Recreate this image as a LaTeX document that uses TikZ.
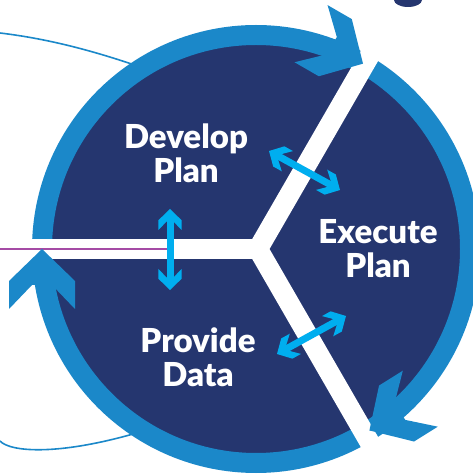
\documentclass[tikz,border=0pt]{standalone}
\usepackage{fontspec}
\setmainfont{Lato}[BoldFont={Lato Black}]
\usepackage{tikz}

\definecolor{planblue}{HTML}{25366F}
\definecolor{ringblue}{HTML}{1B88C9}
\definecolor{cyanarr}{HTML}{00AEEF}
\definecolor{purp}{HTML}{A54BA5}

\tikzset{
  chev/.pic={\fill (0,0) -- (-32,33) -- (-60,33) -- (-36,10) -- (-36,-10) -- (-60,-33) -- (-32,-33) -- cycle;},
  lbl/.style={text=white, align=center, inner sep=0pt, font=\fontsize{33}{34}\selectfont\bfseries},
  dbl/.style={draw=cyanarr, line width=7pt, shorten <=11pt, shorten >=11pt},
}

\begin{document}
\begin{tikzpicture}[x=1pt, y=1pt]
    \useasboundingbox (0,0) rectangle (473,474);

    \coordinate (c) at (256,225);   % ring centre
    \coordinate (yc) at (258,225);  % centre of the white Y

    % thin lines behind the circle
    \draw[ringblue, line width=1.6pt] (0,441) .. controls (50,435) and (100,422) .. (160,400);
    \draw[ringblue, line width=1.6pt] (0,33) .. controls (10,22) and (60,17) .. (150,45);

    \fill[planblue] (c) circle (214);
    \draw[ringblue, line width=20pt] (c) circle (214);

    % white Y
    \draw[white, line width=20pt, miter limit=4] ([shift={(60:240)}]yc) -- (yc) -- ([shift={(-60:240)}]yc);
    \draw[white, line width=20pt] (yc) -- ([shift={(180:260)}]yc);

    \coordinate (pl) at (0,225);
    \coordinate (pe) at (170,225);
    \draw[purp, line width=2.2pt] (pl) -- (pe);

    % ring arrow heads
    \coordinate (tl) at ([shift={(180:214)}]c);
    \coordinate (tr) at ([shift={(60:214)}]c);
    \coordinate (tb) at ([shift={(-58:214)}]c);
    \pic[fill=ringblue, rotate=90] at (tl) {chev};
    \pic[fill=ringblue, rotate=-30] at (tr) {chev};
    \pic[fill=ringblue, rotate=-148] at (tb) {chev};

    % double arrows across the gaps
    \coordinate (va) at (170,265);
    \coordinate (vb) at (170,184);
    \coordinate (ua) at (269,323);
    \coordinate (ub) at (340,284);
    \coordinate (la) at (277,120);
    \coordinate (lb) at (346,158);
    \draw[dbl] (va) -- (vb);
    \draw[dbl] (ua) -- (ub);
    \draw[dbl] (la) -- (lb);
    \pic[fill=cyanarr, scale=0.35, rotate=90] at (va) {chev};
    \pic[fill=cyanarr, scale=0.35, rotate=-90] at (vb) {chev};
    \pic[fill=cyanarr, scale=0.35, rotate=151] at (ua) {chev};
    \pic[fill=cyanarr, scale=0.35, rotate=-29] at (ub) {chev};
    \pic[fill=cyanarr, scale=0.35, rotate=209] at (la) {chev};
    \pic[fill=cyanarr, scale=0.35, rotate=29] at (lb) {chev};

    \node[lbl] (dev) at (186,321) {Develop\\Plan};
    \node[lbl] (exe) at (378,225) {Execute\\Plan};
    \node[lbl] (pro) at (198,117) {Provide\\Data};

    % cut-off glyph at the top edge
    \fill[planblue] (408,474) ellipse [x radius=14, y radius=7];
\end{tikzpicture}
\end{document}
